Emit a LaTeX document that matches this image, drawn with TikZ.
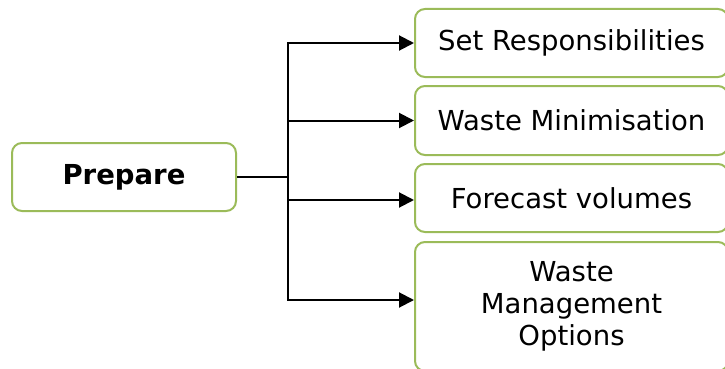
\documentclass[tikz,border=0pt]{standalone}
\usepackage{fontspec}
\setmainfont{DejaVu Sans}
\usetikzlibrary{arrows.meta}
\definecolor{boxgreen}{RGB}{155,187,89}
\tikzset{
  stepbox/.style={draw=boxgreen, line width=2pt, rounded corners=10pt,
    fill=white, align=center, inner sep=0pt,
    font=\fontsize{27.5}{32}\selectfont},
  link/.style={line width=2pt, -{Triangle[length=15pt,width=15pt]}}
}

\begin{document}
\begin{tikzpicture}[x=1pt,y=-1pt]
  \useasboundingbox (0,0) rectangle (725,369);
  \node [stepbox, minimum width=224pt, minimum height=68pt] (prepare) at (124,177) {\textbf{Prepare}};
  \node [stepbox, minimum width=313pt, minimum height=68pt] (setresp) at (571.5,43) {Set Responsibilities};
  \node [stepbox, minimum width=313pt, minimum height=69pt] (wastemin) at (571.5,120.5) {Waste Minimisation};
  \node [stepbox, minimum width=313pt, minimum height=68pt] (forecast) at (571.5,198) {Forecast volumes};
  \node [stepbox, minimum width=313pt, minimum height=129pt] (wasteopt) at (571.5,306.5) {Waste\\Management\\Options};
  \coordinate (junction) at (288,177);

  % connectors from the prepare box
  \draw [line width=2pt] (prepare.east) -- (junction);
  \draw [link] (junction) |- (setresp.west);
  \draw [link] (junction) |- (wastemin.west);
  \draw [link] (junction) |- ([yshift=-2pt]forecast.west);
  \draw [link] (junction) |- ([yshift=6.5pt]wasteopt.west);
\end{tikzpicture}
\end{document}
